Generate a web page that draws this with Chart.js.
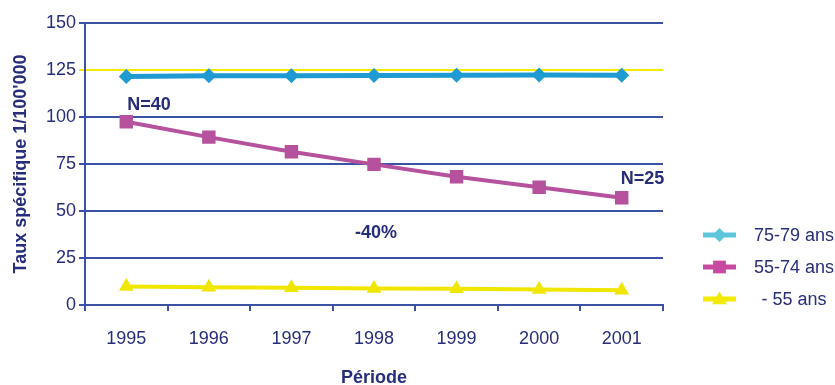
<!DOCTYPE html>
<html>
<head>
<meta charset="utf-8">
<script src="https://cdn.jsdelivr.net/npm/chart.js@4/dist/chart.umd.min.js"></script>
<style>
  html, body { margin: 0; padding: 0; background: #fff; }
  #wrap { width: 835px; height: 385px; }
</style>
</head>
<body>
<div id="wrap"><canvas id="chart" width="835" height="385"></canvas></div>
<script>
const years = ['1995', '1996', '1997', '1998', '1999', '2000', '2001']
const seriesNames = ['75-79 ans', '55-74 ans', '- 55 ans']
const rate7579 = [121.6, 121.9, 121.9, 122.1, 122.2, 122.4, 122.2]
const rate5574 = [97.5, 89.3, 81.5, 74.8, 68.2, 62.6, 57.0]
const rateUnder55 = [9.8, 9.4, 9.2, 8.8, 8.6, 8.3, 7.8]
const yTicks = [0, 25, 50, 75, 100, 125, 150]
const notes = ['N=40', 'N=25', '-40%']

const navy = '#262d7a'
const gridBlue = '#3b51a3'
const font = 'Arial, "Liberation Sans", sans-serif'

const seriesStyle = [
  { color: '#1f9ad2', legend: '#5ec6da', point: 'rectRot', radius: 7.5, legendRadius: 7, width: 5 },
  { color: '#b6519e', legend: '#c64a9f', point: 'rect', radius: 9.5, legendRadius: 9, width: 4 },
  { color: '#f0e600', legend: '#f2ea00', point: 'triangle', radius: 8.5, legendRadius: 8.5, width: 4 },
]
const seriesData = [rate7579, rate5574, rateUnder55]

// text notes placed on the pink series and below it
const notesPlugin = {
  id: 'notes',
  afterDatasetsDraw(chart) {
    const { ctx, scales: { x, y } } = chart
    ctx.save()
    ctx.fillStyle = navy
    ctx.font = 'bold 18px ' + font
    ctx.textBaseline = 'middle'
    ctx.textAlign = 'left'
    ctx.fillText(notes[0], x.getPixelForValue(0) + 1, y.getPixelForValue(rate5574[0]) - 17)
    ctx.fillText(notes[1], x.getPixelForValue(6) - 1, y.getPixelForValue(rate5574[6]) - 19)
    ctx.textAlign = 'center'
    ctx.fillText(notes[2], x.getPixelForValue(3) + 2, y.getPixelForValue(38.5))
    ctx.restore()
  }
}

// legend on the right: line sample with its marker, centred label
const sideLegend = {
  id: 'sideLegend',
  afterDraw(chart) {
    const { ctx } = chart
    ctx.save()
    chart.data.datasets.forEach((ds, i) => {
      const st = seriesStyle[i]
      const yy = 235 + i * 32
      ctx.strokeStyle = st.legend
      ctx.lineWidth = 5
      ctx.beginPath()
      ctx.moveTo(703, yy)
      ctx.lineTo(736, yy)
      ctx.stroke()
      ctx.fillStyle = st.legend
      Chart.helpers.drawPoint(ctx, {
        pointStyle: st.point, radius: st.legendRadius, rotation: 0, borderWidth: 0
      }, 719.5, yy + (st.point === 'triangle' ? 1 : 0))
      ctx.fillStyle = navy
      ctx.font = '18px ' + font
      ctx.textAlign = 'center'
      ctx.textBaseline = 'middle'
      ctx.fillText(ds.label, 794, yy + 1)
    })
    ctx.restore()
  }
}

new Chart(document.getElementById('chart'), {
  type: 'line',
  data: {
    labels: years,
    datasets: seriesData.map((d, i) => ({
      label: seriesNames[i],
      data: d,
      borderColor: seriesStyle[i].color,
      backgroundColor: seriesStyle[i].color,
      borderWidth: seriesStyle[i].width,
      pointStyle: seriesStyle[i].point,
      pointRadius: seriesStyle[i].radius,
      pointBorderWidth: 0,
      pointBackgroundColor: seriesStyle[i].color,
      tension: 0,
    })),
  },
  options: {
    responsive: false,
    animation: false,
    layout: { padding: { top: 23, right: 172, left: 0, bottom: 0 } },
    plugins: {
      legend: { display: false },
      tooltip: { enabled: false },
    },
    scales: {
      x: {
        offset: true,
        grid: {
          offset: true,
          drawOnChartArea: false,
          drawTicks: true,
          tickLength: 6,
          color: gridBlue,
          lineWidth: 2,
        },
        border: { display: true, color: gridBlue, width: 2 },
        ticks: { color: navy, font: { family: font, size: 18 }, padding: 17, maxRotation: 0 },
        title: {
          display: true,
          text: 'Période',
          color: navy,
          font: { family: font, size: 18, weight: 'bold', lineHeight: 1 },
          padding: { top: 0, bottom: -2 },
        },
        afterFit(scale) { scale.height = 80 },
      },
      y: {
        min: 0,
        max: 150,
        afterBuildTicks(scale) { scale.ticks = yTicks.map(v => ({ value: v })) },
        grid: {
          color: ctx => (ctx.tick && ctx.tick.value === 125 ? '#f2ea00' : gridBlue),
          lineWidth: 2,
          tickLength: 6,
        },
        border: { display: true, color: gridBlue, width: 2 },
        ticks: { color: navy, font: { family: font, size: 18 }, padding: 3 },
        title: {
          display: true,
          text: "Taux spécifique 1/100'000",
          color: navy,
          font: { family: font, size: 18, weight: 'bold' },
          padding: { top: 10, bottom: 0 },
        },
        afterFit(scale) { scale.width = 85 },
      },
    },
  },
  plugins: [notesPlugin, sideLegend],
})
</script>
</body>
</html>
